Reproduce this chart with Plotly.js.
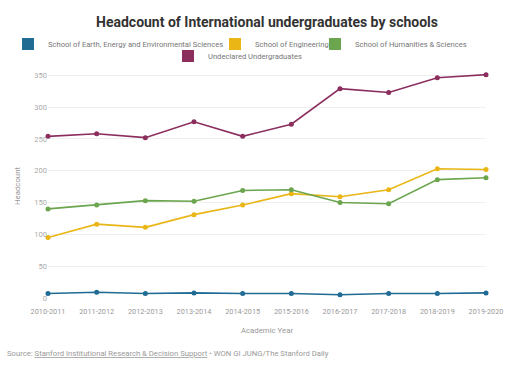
<!DOCTYPE html>
<html>
<head>
<meta charset="utf-8">
<script src="https://cdn.plot.ly/plotly-3.0.1.min.js"></script>
<style>html,body{margin:0;padding:0;background:#fff;}#chart{width:524px;height:372px;}</style>
</head>
<body>
<div id="chart"></div>
<script>
const years = ["2010-2011","2011-2012","2012-2013","2013-2014","2014-2015","2015-2016","2016-2017","2017-2018","2018-2019","2019-2020"];
const seriesNames = ["School of Earth, Energy and Environmental Sciences","School of Engineering","School of Humanities & Sciences","Undeclared Undergraduates"];
const earth = [7, 9, 7, 8, 7, 7, 5, 7, 7, 8];
const engineering = [95, 116, 111, 131, 146, 164, 159, 170, 203, 202];
const humanities = [140, 146, 153, 152, 169, 170, 150, 148, 186, 189];
const undeclared = [254, 258, 252, 277, 254, 273, 329, 323, 346, 351];
const colors = ["#1f6b93", "#e9b616", "#6ba54e", "#8b2e5e"];
const values = [earth, engineering, humanities, undeclared];
const legendIds = ["legend", "legend2", "legend3", "legend4"];

const traces = [];
values.forEach((v, i) => {
  traces.push({
    type: 'scatter', mode: 'lines+markers', x: years, y: v, name: seriesNames[i],
    line: {color: colors[i], width: 1.6}, marker: {color: colors[i], size: 5},
    showlegend: false, cliponaxis: false, hoverinfo: 'x+y+name'
  });
});
values.forEach((v, i) => {
  traces.push({
    type: 'bar', x: [null], y: [null], name: seriesNames[i], legend: legendIds[i],
    marker: {color: colors[i]}, showlegend: true, hoverinfo: 'skip'
  });
});

// legend placement (container pixels: left edge, vertical centre)
const legendPos = [[8, 44], [215, 44], [315, 44], [168, 56]];

const layout = {
  width: 524, height: 372,
  paper_bgcolor: '#fff', plot_bgcolor: '#fff',
  margin: {l: 48, r: 38, t: 74, b: 74},
  font: {family: 'Roboto, sans-serif', color: '#999', size: 8},
  title: {text: '<b>Headcount of International undergraduates by schools</b>', font: {family: 'Roboto, sans-serif', size: 14, color: '#333'}, x: 0.5, xanchor: 'center', xref: 'paper', y: 1 - 22/372, yanchor: 'middle', yref: 'container'},
  showlegend: true,
  xaxis: {type: 'category', range: [0, 9], showgrid: false, zeroline: false, showline: false, ticks: '', ticklabelstandoff: 8, tickfont: {size: 7.3, color: '#999'}, tickangle: 0, title: {text: 'Academic Year', font: {size: 7.8, color: '#999'}, standoff: 12}, automargin: false},
  yaxis: {range: [0, 352], dtick: 50, showgrid: true, gridcolor: '#efefef', gridwidth: 1, zeroline: false, showline: false, tickfont: {size: 7.5, color: '#aaa'}, title: {text: 'Headcount', font: {size: 7.8, color: '#999'}, standoff: 12}, automargin: false},
  annotations: [
    {text: 'Source: <span style="text-decoration:underline">Stanford Institutional Research &amp; Decision Support</span> • WON GI JUNG/The Stanford Daily', xref: 'paper', yref: 'paper', x: -43/438, y: -(353-298)/224, xanchor: 'left', yanchor: 'middle', showarrow: false, font: {size: 7.7, color: '#999'}}
  ],
  barmode: 'group'
};
legendIds.forEach((id, i) => {
  layout[id] = {orientation: 'h', xref: 'container', yref: 'container', x: legendPos[i][0]/524, y: 1 - legendPos[i][1]/372, xanchor: 'left', yanchor: 'middle', font: {size: 7.6, color: '#777'}, bgcolor: 'rgba(0,0,0,0)', itemwidth: 30, automargin: false};
});

Plotly.newPlot('chart', traces, layout, {displayModeBar: false, staticPlot: true});
</script>
</body>
</html>
